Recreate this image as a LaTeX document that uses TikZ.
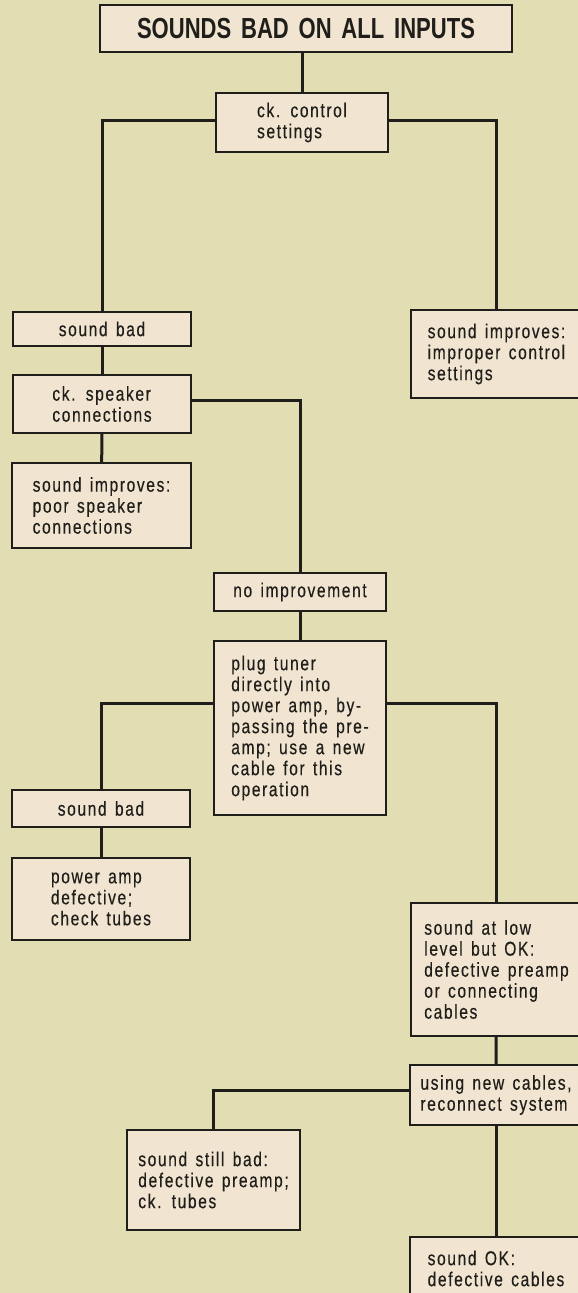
\documentclass[tikz,border=0pt]{standalone}
\usepackage{fontspec}
\setmainfont{Liberation Sans}[FakeStretch=0.78, FakeBold=0.3, LetterSpace=8, WordSpace=1.4]
\newfontfamily\headfont{Liberation Sans Bold}[FakeStretch=0.76, WordSpace=1.6]
\usetikzlibrary{positioning}
\definecolor{cpaper}{HTML}{E3DDB3}
\definecolor{cbox}{HTML}{F1E4D0}
\definecolor{cink}{HTML}{1F1E1A}
\tikzset{
  box/.style 2 args={draw=cink, fill=cbox, line width=2.2pt, align=left, inner sep=0pt, minimum width=#1, minimum height=#2, text=cink, font=\fontsize{20}{21}\selectfont},
  head/.style={box={412pt}{47pt}, font=\headfont\fontsize{29}{30}\selectfont},
  link/.style={draw=cink, line width=3pt},
}

\begin{document}
\begin{tikzpicture}[x=1pt, y=-1pt]
  \useasboundingbox (0,0) rectangle (578,1293);
  \fill[cpaper] (0,0) rectangle (578,1293);
  % top of the chart
  \node[head] (top) at (306,28.5) {SOUNDS BAD ON ALL INPUTS};
  \node[box={172pt}{59pt}] (ctrl) at (302,122.5) {ck. control\\settings};
  \node[box={171pt}{88pt}] (improper) at (496.5,354) {sound improves:\\improper control\\settings};
  \node[box={178pt}{34pt}] (bad1) at (102,329) {sound bad};
  \node[box={178pt}{58pt}] (spk) at (102,404) {ck. speaker\\connections};
  \node[box={179pt}{85pt}] (poor) at (101.5,505.5) {sound improves:\\poor speaker\\connections};
  % middle
  \node[box={172pt}{38pt}] (noimp) at (300,592) {no improvement};
  \node[box={172pt}{174pt}] (plug) at (300,728) {plug tuner\\directly into\\power amp, by-\\passing the pre-\\amp; use a new\\cable for this\\operation};
  \node[box={178pt}{37pt}] (bad2) at (101,808.5) {sound bad};
  \node[box={178pt}{82pt}] (pwr) at (101,899) {power amp\\defective;\\check tubes};
  \node[box={171pt}{133pt}] (low) at (496.5,969.5) {sound at low\\level but OK:\\defective preamp\\or connecting\\cables};
  % bottom
  \node[box={172pt}{60pt}] (newc) at (496,1095) {using new cables,\\reconnect system};
  \node[box={173pt}{100pt}] (still) at (213.5,1180) {sound still bad:\\defective preamp;\\ck. tubes};
  \node[box={172pt}{63pt}] (ok) at (496,1268.5) {sound OK:\\defective cables};
  % connectors
  \draw[link] (ctrl.north) -- (ctrl.north |- top.south);
  \draw[link] ([yshift=2pt]ctrl.west) -| (bad1.north);
  \draw[link] ([yshift=2pt]ctrl.east) -| (improper.north);
  \draw[link] (bad1) -- (spk);
  \draw[link] (spk) -- (poor);
  \draw[link] ([yshift=4pt]spk.east) -| (noimp.north);
  \draw[link] (noimp) -- (plug);
  \draw[link] ([yshift=25pt]plug.west) -| (bad2.north);
  \draw[link] ([yshift=25pt]plug.east) -| (low.north);
  \draw[link] (bad2) -- (pwr);
  \draw[link] (low) -- (newc);
  \draw[link] ([yshift=5pt]newc.west) -| (still.north);
  \draw[link] (newc) -- (ok);
\end{tikzpicture}
\end{document}
